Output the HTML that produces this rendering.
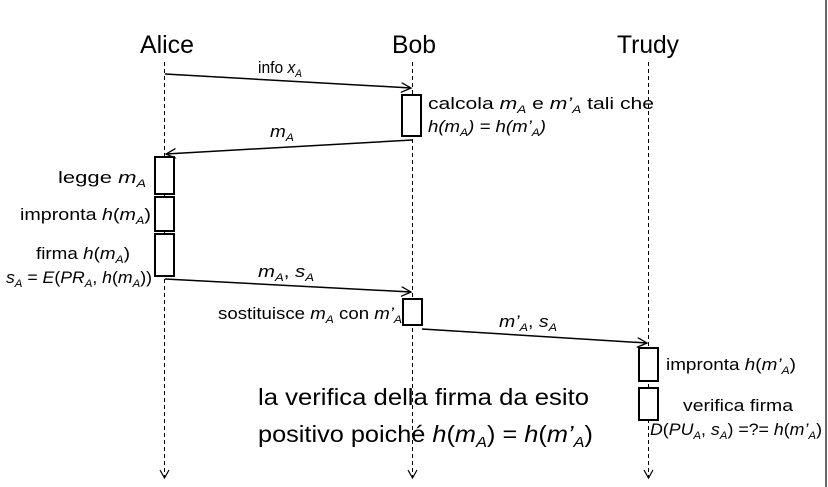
<!DOCTYPE html>
<html><head><meta charset="utf-8"><style>
html,body{margin:0;padding:0;background:#fff;}
svg{display:block;}
text{font-family:"Liberation Sans",sans-serif;fill:#000;}
.i{font-style:italic;}
</style></head><body>
<svg width="828" height="487" viewBox="0 0 828 487" xmlns="http://www.w3.org/2000/svg">
<defs>
<marker id="ar" markerWidth="12" markerHeight="12" refX="10" refY="5" orient="auto" markerUnits="userSpaceOnUse">
<path d="M0,0 L10,5 L0,10" fill="none" stroke="#000" stroke-width="1.3"/>
</marker>
</defs>
<rect x="825" y="0" width="2" height="487" fill="#666"/>
<!-- titles -->
<text x="167" y="53" font-size="25" text-anchor="middle" textLength="54" lengthAdjust="spacingAndGlyphs">Alice</text>
<text x="414" y="53" font-size="25" text-anchor="middle" textLength="44" lengthAdjust="spacingAndGlyphs">Bob</text>
<text x="648" y="53" font-size="25" text-anchor="middle" textLength="62" lengthAdjust="spacingAndGlyphs">Trudy</text>
<!-- lifelines -->
<g stroke="#000" stroke-width="1" stroke-dasharray="4,3" fill="none">
<line x1="164.5" y1="62" x2="164.5" y2="477"/>
<line x1="412.5" y1="62" x2="412.5" y2="477"/>
<line x1="648.5" y1="62" x2="648.5" y2="477"/>
</g>
<g stroke="#000" stroke-width="1.2" fill="none">
<path d="M160,470 L164.5,478 L169,470"/>
<path d="M408,470 L412.5,478 L417,470"/>
<path d="M644,470 L648.5,478 L653,470"/>
</g>
<!-- arrows -->
<g stroke="#000" stroke-width="1.5" fill="none">
<line x1="165" y1="74" x2="411" y2="88" marker-end="url(#ar)"/>
<line x1="412" y1="140" x2="166" y2="154" marker-end="url(#ar)"/>
<line x1="165" y1="279" x2="411" y2="292" marker-end="url(#ar)"/>
<line x1="422" y1="329" x2="647" y2="343" marker-end="url(#ar)"/>
</g>
<!-- boxes -->
<g stroke="#000" stroke-width="2" fill="#fff">
<rect x="402" y="95" width="19" height="41"/>
<rect x="155" y="157" width="19" height="37"/>
<rect x="155" y="197" width="19" height="34"/>
<rect x="155" y="234" width="19" height="42"/>
<rect x="403" y="299" width="19" height="26"/>
<rect x="639" y="348" width="19" height="33"/>
<rect x="639" y="388" width="19" height="32"/>
</g>
<!-- labels -->
<g font-size="17">
<text x="258" y="73" textLength="44" lengthAdjust="spacingAndGlyphs">info <tspan class="i">x</tspan><tspan class="i" font-size="11" dy="4">A</tspan></text>
<text x="270" y="137" textLength="24" lengthAdjust="spacingAndGlyphs"><tspan class="i">m</tspan><tspan class="i" font-size="11" dy="4">A</tspan></text>
<text x="428" y="109" textLength="226" lengthAdjust="spacingAndGlyphs">calcola <tspan class="i">m</tspan><tspan class="i" font-size="11" dy="4">A</tspan><tspan dy="-4"> e </tspan><tspan class="i">m’</tspan><tspan class="i" font-size="11" dy="4">A</tspan><tspan dy="-4"> tali che</tspan></text>
<text x="428" y="132" class="i" textLength="118" lengthAdjust="spacingAndGlyphs">h(m<tspan font-size="11" dy="4">A</tspan><tspan dy="-4">) = h(m’</tspan><tspan font-size="11" dy="4">A</tspan><tspan dy="-4">)</tspan></text>
<text x="146" y="183" text-anchor="end" textLength="88" lengthAdjust="spacingAndGlyphs">legge <tspan class="i">m</tspan><tspan class="i" font-size="11" dy="4">A</tspan></text>
<text x="151" y="220" text-anchor="end" textLength="131" lengthAdjust="spacingAndGlyphs">impronta <tspan class="i">h</tspan>(<tspan class="i">m</tspan><tspan class="i" font-size="11" dy="4">A</tspan><tspan dy="-4">)</tspan></text>
<text x="130" y="259" text-anchor="end" textLength="94" lengthAdjust="spacingAndGlyphs">firma <tspan class="i">h</tspan>(<tspan class="i">m</tspan><tspan class="i" font-size="11" dy="4">A</tspan><tspan dy="-4">)</tspan></text>
<text x="6" y="283" textLength="146" lengthAdjust="spacingAndGlyphs"><tspan class="i">s</tspan><tspan class="i" font-size="11" dy="4">A</tspan><tspan dy="-4"> = </tspan><tspan class="i">E</tspan>(<tspan class="i">PR</tspan><tspan class="i" font-size="11" dy="4">A</tspan><tspan dy="-4">, </tspan><tspan class="i">h</tspan>(<tspan class="i">m</tspan><tspan class="i" font-size="11" dy="4">A</tspan><tspan dy="-4">))</tspan></text>
<text x="258" y="277" textLength="56" lengthAdjust="spacingAndGlyphs"><tspan class="i">m</tspan><tspan class="i" font-size="11" dy="4">A</tspan><tspan dy="-4">,  </tspan><tspan class="i">s</tspan><tspan class="i" font-size="11" dy="4">A</tspan></text>
<text x="218" y="319" textLength="184" lengthAdjust="spacingAndGlyphs">sostituisce <tspan class="i">m</tspan><tspan class="i" font-size="11" dy="4">A</tspan><tspan dy="-4"> con </tspan><tspan class="i">m’</tspan><tspan class="i" font-size="11" dy="4">A</tspan></text>
<text x="499" y="327" textLength="58" lengthAdjust="spacingAndGlyphs"><tspan class="i">m’</tspan><tspan class="i" font-size="11" dy="4">A</tspan><tspan dy="-4">,  </tspan><tspan class="i">s</tspan><tspan class="i" font-size="11" dy="4">A</tspan></text>
<text x="666" y="370" textLength="130" lengthAdjust="spacingAndGlyphs">impronta <tspan class="i">h</tspan>(<tspan class="i">m’</tspan><tspan class="i" font-size="11" dy="4">A</tspan><tspan dy="-4">)</tspan></text>
<text x="683" y="411" textLength="110" lengthAdjust="spacingAndGlyphs">verifica firma</text>
<text x="650" y="435" textLength="172" lengthAdjust="spacingAndGlyphs"><tspan class="i">D</tspan>(<tspan class="i">PU</tspan><tspan class="i" font-size="11" dy="4">A</tspan><tspan dy="-4">, </tspan><tspan class="i">s</tspan><tspan class="i" font-size="11" dy="4">A</tspan><tspan dy="-4">) =?= </tspan><tspan class="i">h</tspan>(<tspan class="i">m’</tspan><tspan class="i" font-size="11" dy="4">A</tspan><tspan dy="-4">)</tspan></text>
</g>
<g font-size="23">
<text x="258" y="405" textLength="331" lengthAdjust="spacingAndGlyphs">la verifica della firma da esito</text>
<text x="258" y="442" textLength="335" lengthAdjust="spacingAndGlyphs">positivo poiché <tspan class="i">h</tspan>(<tspan class="i">m</tspan><tspan class="i" font-size="15" dy="5">A</tspan><tspan dy="-5">) = </tspan><tspan class="i">h</tspan>(<tspan class="i">m’</tspan><tspan class="i" font-size="15" dy="5">A</tspan><tspan dy="-5">)</tspan></text>
</g>
</svg>
</body></html>
